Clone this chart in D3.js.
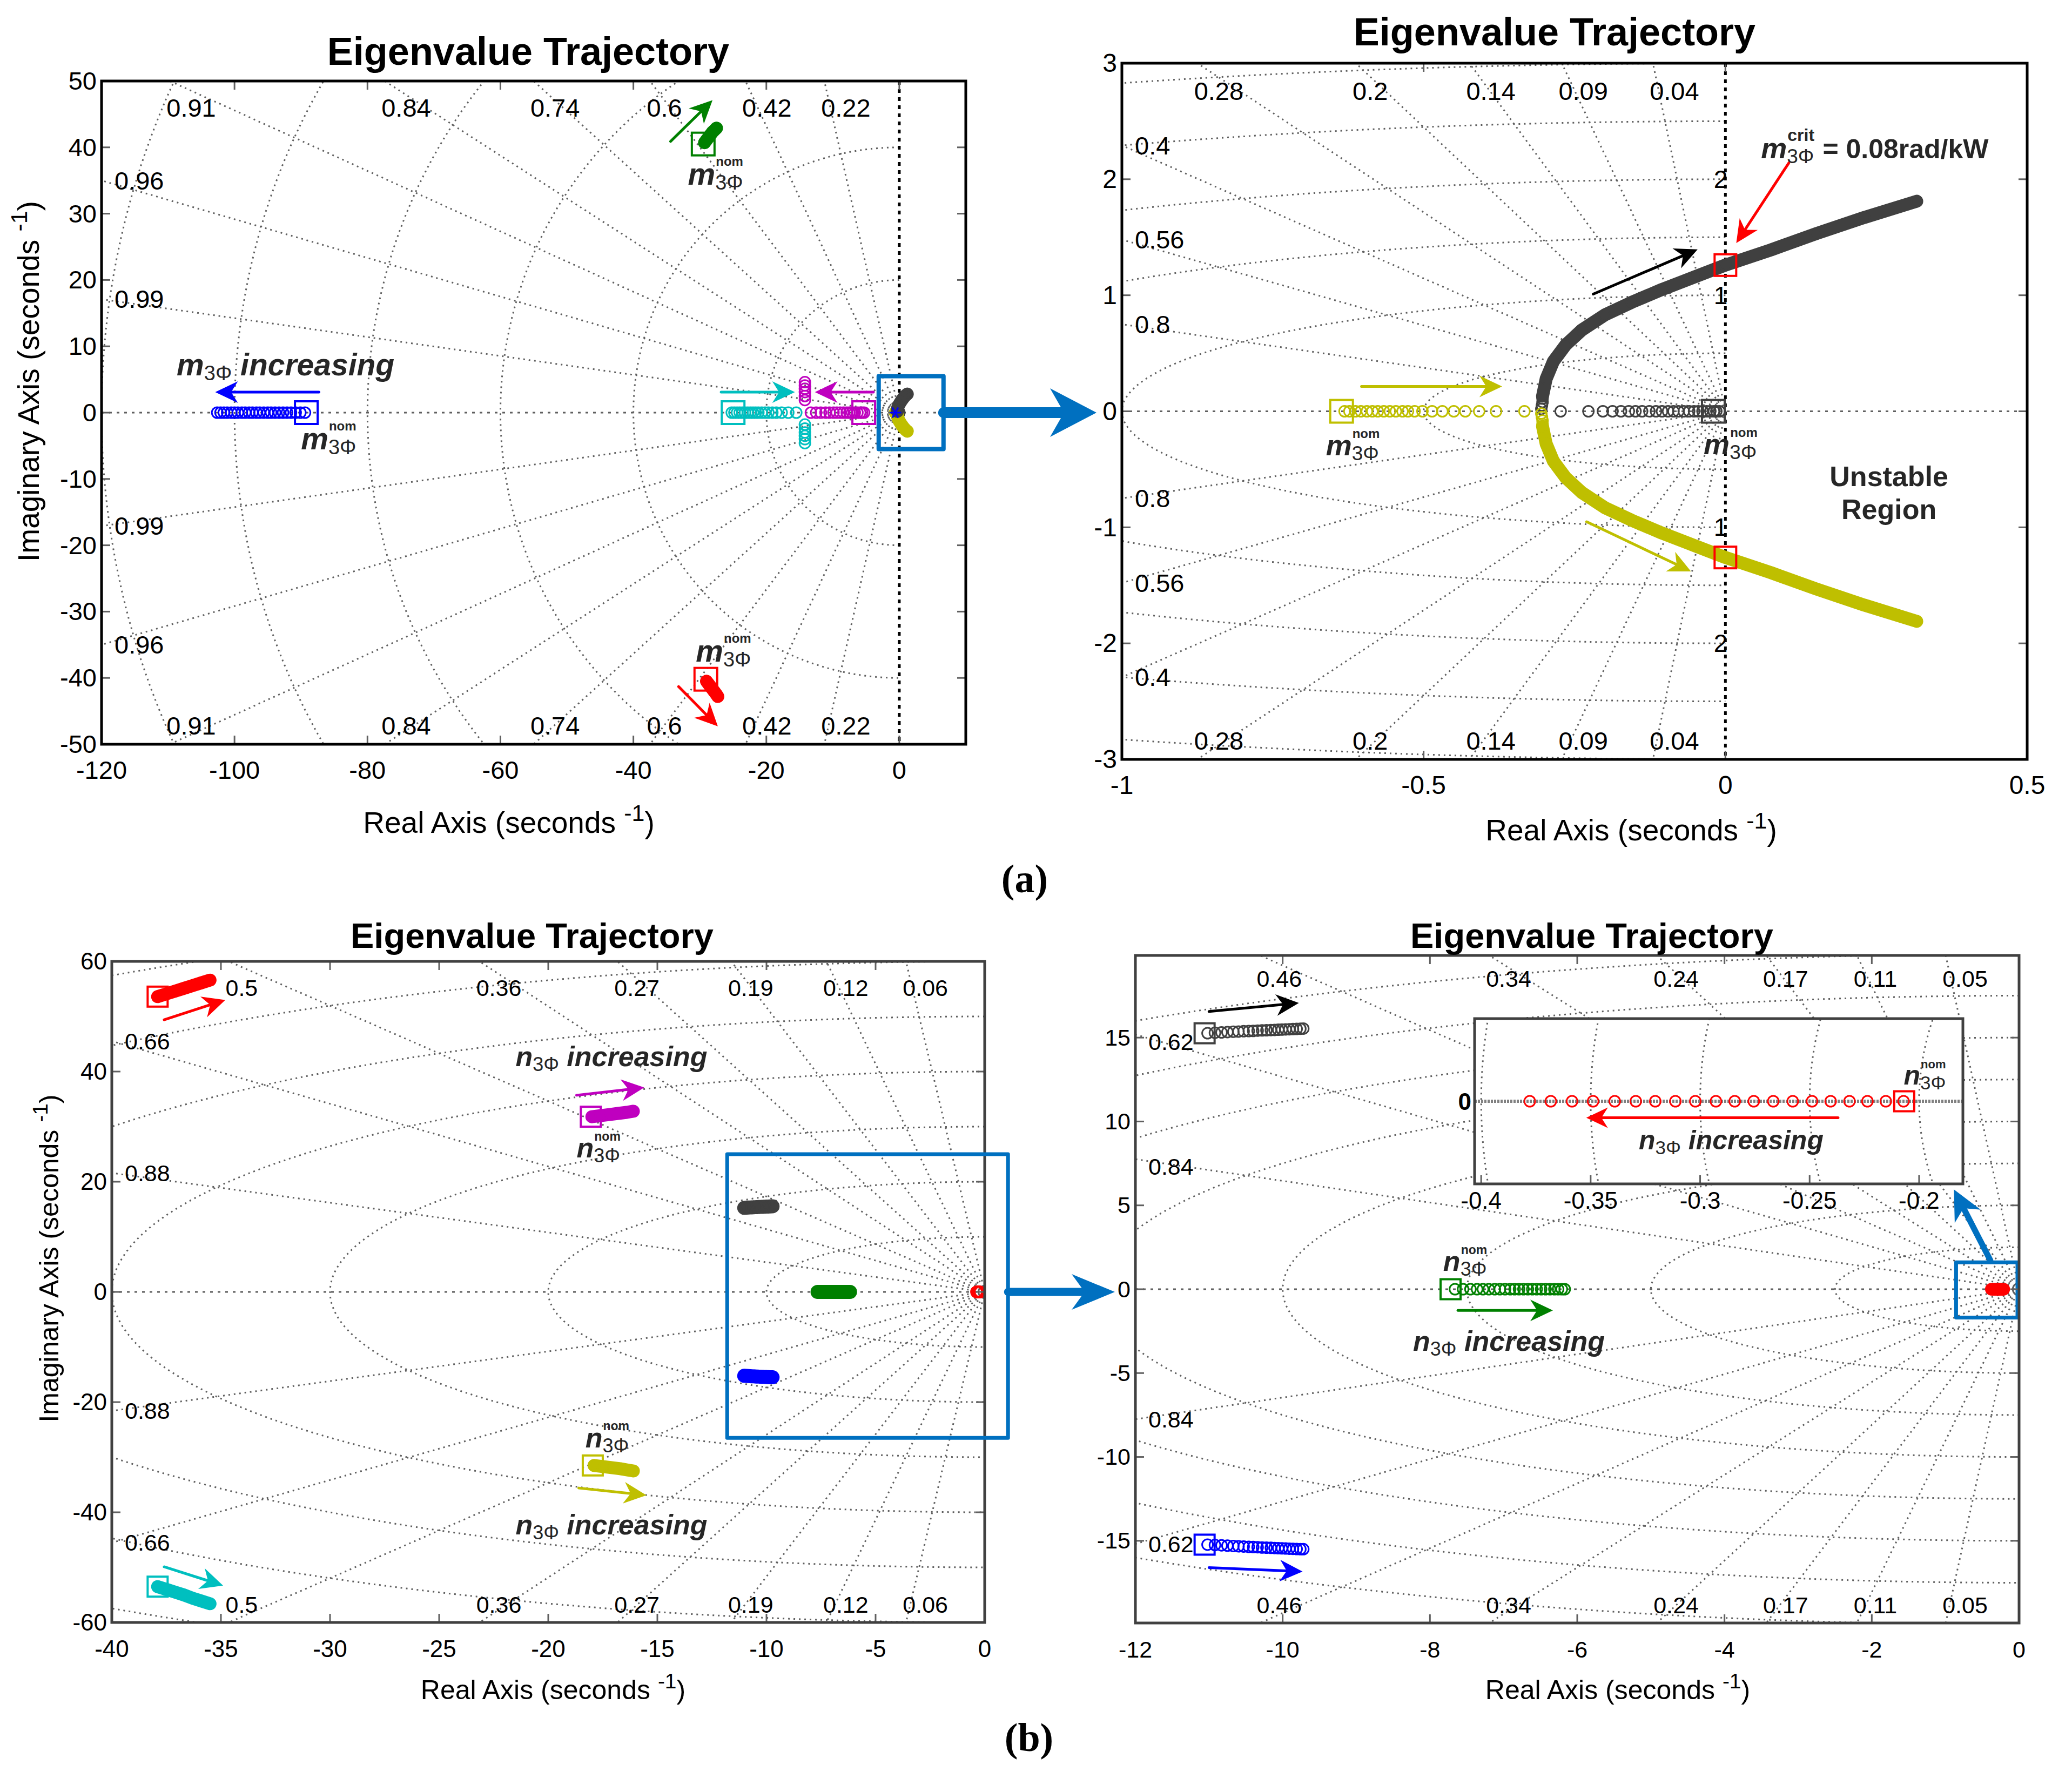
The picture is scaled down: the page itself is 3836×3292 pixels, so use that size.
<!DOCTYPE html>
<html>
<head>
<meta charset="utf-8">
<title>Eigenvalue Trajectory</title>
<script src="https://cdn.jsdelivr.net/npm/d3@7"></script>
<style>
  body { margin: 0; background: #fff; }
  svg text { font-family: "Liberation Sans", Arial, Helvetica, sans-serif; }
</style>
</head>
<body>
<svg id="fig" width="3836" height="3292"></svg>
<script>
// ---------------- values ----------------
// (a) left: wide view of the m3phi sweep  [re, im]
var aL_blue = [[-102.6,0],[-102.1,0],[-101.6,0],[-101.1,0],[-100.5,0],[-100.0,0],[-99.5,0],[-98.9,0],
  [-98.4,0],[-97.8,0],[-97.3,0],[-96.7,0],[-96.2,0],[-95.6,0],[-95.0,0],[-94.5,0],[-93.9,0],[-93.3,0],
  [-92.7,0],[-92.1,0],[-91.5,0],[-90.8,0],[-90.1,0],[-89.4,0]];
var aL_blueNom = [-89.2, 0];
var aL_magenta = [[-5.3,0],[-5.6,0],[-5.9,0],[-6.3,0],[-6.7,0],[-7.1,0],[-7.5,0],[-7.9,0],[-8.4,0],
  [-8.9,0],[-9.4,0],[-9.9,0],[-10.5,0],[-11.1,0],[-11.8,0],[-12.5,0],[-13.3,0],
  [-14.2,1.9],[-14.2,2.5],[-14.2,3.1],[-14.2,3.6],[-14.2,4.1],[-14.2,4.6]];
var aL_magentaNom = [-5.35, 0];
var aL_cyan = [[-25.2,0],[-24.8,0],[-24.4,0],[-24.0,0],[-23.6,0],[-23.2,0],[-22.8,0],[-22.4,0],[-22.0,0],
  [-21.6,0],[-21.2,0],[-20.7,0],[-20.2,0],[-19.7,0],[-19.1,0],[-18.5,0],[-17.7,0],[-16.7,0],[-15.5,0],
  [-14.2,-1.8],[-14.2,-2.4],[-14.2,-3.0],[-14.2,-3.5],[-14.2,-4.0],[-14.2,-4.6]];
var aL_cyanNom = [-25.0, 0];
var aL_green = [[-29.3,40.7],[-29.0,41.1],[-28.7,41.5],[-28.4,41.9],[-28.1,42.3],[-27.8,42.6],[-27.5,42.9]];
var aL_greenNom = [-29.5, 40.5];
var aL_red = [[-29.0,-40.5],[-28.7,-40.9],[-28.4,-41.3],[-28.1,-41.7],[-27.8,-42.1],[-27.5,-42.5],[-27.3,-42.8]];
var aL_redNom = [-29.1, -40.2];
var aL_dark = [[-0.3,0.2],[-0.25,0.7],[-0.05,1.2],[0.25,1.7],[0.6,2.2],[0.95,2.6],[1.2,2.8]];
var aL_olive = [[-0.3,-0.2],[-0.25,-0.7],[-0.05,-1.2],[0.25,-1.7],[0.6,-2.2],[0.95,-2.6],[1.2,-2.8]];
var aL_star = [-0.6, 0];

// (a) right: zoom near the origin
var aR_darkReal = [[-0.273,0],[-0.227,0],[-0.203,0],[-0.187,0],[-0.173,0],[-0.160,0],[-0.149,0],[-0.138,0],
  [-0.126,0],[-0.115,0],[-0.105,0],[-0.095,0],[-0.086,0],[-0.078,0],[-0.069,0],[-0.060,0],[-0.052,0],
  [-0.045,0],[-0.038,0],[-0.031,0],[-0.025,0],[-0.019,0],[-0.015,0],[-0.010,0]];
var aR_darkNom = [-0.020, 0];
var aR_oliveReal = [[-0.631,0],[-0.623,0],[-0.613,0],[-0.604,0],[-0.594,0],[-0.585,0],[-0.576,0],[-0.566,0],
  [-0.556,0],[-0.546,0],[-0.535,0],[-0.526,0],[-0.515,0],[-0.502,0],[-0.486,0],[-0.469,0],[-0.450,0],
  [-0.431,0],[-0.408,0],[-0.380,0],[-0.333,0]];
var aR_oliveNom = [-0.636, 0];
var aR_darkSplit = [[-0.305,0.02],[-0.304,0.05],[-0.303,0.08],[-0.303,0.11]];
var aR_oliveSplit = [[-0.305,-0.02],[-0.304,-0.05],[-0.303,-0.08],[-0.303,-0.11]];
var aR_darkUp = [[-0.303,0.13],[-0.297,0.28],[-0.285,0.43],[-0.265,0.57],[-0.238,0.70],[-0.200,0.83],
  [-0.155,0.94],[-0.105,1.05],[-0.050,1.16],[0.000,1.26],[0.075,1.39],[0.150,1.53],[0.230,1.67],[0.317,1.81]];
var aR_oliveDown = [[-0.303,-0.13],[-0.297,-0.28],[-0.285,-0.43],[-0.265,-0.57],[-0.238,-0.70],[-0.200,-0.83],
  [-0.155,-0.94],[-0.105,-1.05],[-0.050,-1.16],[0.000,-1.26],[0.075,-1.39],[0.150,-1.53],[0.230,-1.67],[0.317,-1.81]];
var aR_crit = [[0, 1.26], [0, -1.26]];

// (b): n3phi sweep
var bL_red = [[-37.9,53.6],[-37.5,54.1],[-37.1,54.6],[-36.7,55.1],[-36.3,55.6],[-35.9,56.1],[-35.5,56.6]];
var bL_redNom = [-37.9, 53.6];
var bL_cyan = [[-37.9,-53.5],[-37.5,-54.0],[-37.1,-54.5],[-36.7,-55.0],[-36.3,-55.6],[-35.9,-56.1],[-35.5,-56.6]];
var bL_cyanNom = [-37.9, -53.5];
var bL_magenta = [[-18.0,31.8],[-17.6,32.0],[-17.2,32.2],[-16.8,32.4],[-16.4,32.6],[-16.1,32.8]];
var bL_magentaNom = [-18.05, 31.8];
var bL_olive = [[-17.9,-31.5],[-17.5,-31.7],[-17.1,-31.9],[-16.7,-32.1],[-16.4,-32.3],[-16.1,-32.5]];
var bL_oliveNom = [-17.96, -31.5];

var bR_dark = [[-11.02,15.26],[-10.92,15.29],[-10.83,15.31],[-10.75,15.33],[-10.67,15.35],[-10.60,15.36],
  [-10.53,15.38],[-10.46,15.39],[-10.40,15.40],[-10.34,15.42],[-10.28,15.43],[-10.22,15.44],[-10.16,15.45],
  [-10.11,15.46],[-10.06,15.47],[-10.01,15.48],[-9.96,15.49],[-9.91,15.50],[-9.86,15.51],[-9.81,15.52],
  [-9.76,15.53],[-9.72,15.54]];
var bR_darkNom = [-11.06, 15.26];
var bR_blue = [[-11.02,-15.23],[-10.92,-15.25],[-10.83,-15.27],[-10.75,-15.29],[-10.67,-15.31],[-10.60,-15.33],
  [-10.53,-15.34],[-10.46,-15.36],[-10.40,-15.37],[-10.34,-15.38],[-10.28,-15.40],[-10.22,-15.41],[-10.16,-15.42],
  [-10.11,-15.43],[-10.06,-15.44],[-10.01,-15.45],[-9.96,-15.46],[-9.91,-15.47],[-9.86,-15.48],[-9.81,-15.49],
  [-9.76,-15.50],[-9.72,-15.50]];
var bR_blueNom = [-11.06, -15.23];
var bR_green = [[-7.66,0],[-7.55,0],[-7.45,0],[-7.36,0],[-7.28,0],[-7.20,0],[-7.12,0],[-7.05,0],[-6.98,0],
  [-6.91,0],[-6.85,0],[-6.79,0],[-6.73,0],[-6.67,0],[-6.61,0],[-6.55,0],[-6.49,0],[-6.43,0],[-6.37,0],
  [-6.31,0],[-6.26,0],[-6.21,0],[-6.17,0]];
var bR_greenNom = [-7.72, 0];
var bR_red = [[-0.3778,0],[-0.3682,0],[-0.3585,0],[-0.3489,0],[-0.3390,0],[-0.3294,0],[-0.3205,0],[-0.3113,0],
  [-0.3022,0],[-0.2928,0],[-0.2842,0],[-0.2755,0],[-0.2666,0],[-0.2577,0],[-0.2489,0],[-0.2404,0],
  [-0.2318,0],[-0.2236,0],[-0.2152,0],[-0.2071,0]];
var bR_redNom = [-0.2068, 0];

// axes ticks and s-plane grid values
var aL_xTicks = [-120,-100,-80,-60,-40,-20,0], aL_yTicks = [50,40,30,20,10,0,-10,-20,-30,-40,-50];
var aR_xTicks = [-1,-0.5,0,0.5], aR_yTicks = [3,2,1,0,-1,-2,-3];
var bL_xTicks = [-40,-35,-30,-25,-20,-15,-10,-5,0], bL_yTicks = [60,40,20,0,-20,-40,-60];
var bR_xTicks = [-12,-10,-8,-6,-4,-2,0], bR_yTicks = [15,10,5,0,-5,-10,-15];
var in_xTicks = [-0.4,-0.35,-0.3,-0.25,-0.2], in_yTicks = [0];
var aL_zeta = [0.99,0.96,0.91,0.84,0.74,0.6,0.42,0.22], aL_wn = [20,40,60,80,100,120];
var aR_zeta = [0.8,0.56,0.4,0.28,0.2,0.14,0.09,0.04], aR_wn = [0.5,1,1.5,2,2.5,3], aR_wnLabels = [1,2];
var bL_zeta = [0.88,0.66,0.5,0.36,0.27,0.19,0.12,0.06], bL_wn = [10,20,30,40,50,60,70,80];
var bR_zeta = [0.84,0.62,0.46,0.34,0.24,0.17,0.11,0.05], bR_wn = [2.5,5,7.5,10,12.5,15,17.5,20];
var in_wn = [0.2,0.25,0.3,0.35,0.4];

// ---------------- drawing ----------------
var COL = {blue:"#0000ff", green:"#008000", red:"#ff0000", cyan:"#00bfbf", magenta:"#bf00bf",
           olive:"#bfbf00", dark:"#404040", hi:"#0070c0", ink:"#262626", grid:"#5f5f5f"};
var svg = d3.select("#fig");
var defs = svg.append("defs");

function panel(id, box, xDom, yDom) {
  var p = { id: id, box: box,
    x: d3.scaleLinear().domain(xDom).range([box.l, box.r]),
    y: d3.scaleLinear().domain(yDom).range([box.b, box.t]) };
  defs.append("clipPath").attr("id", "clip-" + id).append("rect")
    .attr("x", box.l).attr("y", box.t).attr("width", box.r - box.l).attr("height", box.b - box.t);
  p.g = svg.append("g");
  p.bg = p.g.append("rect").attr("x", box.l).attr("y", box.t)
    .attr("width", box.r - box.l).attr("height", box.b - box.t).attr("fill", "#fff");
  p.clip = p.g.append("g").attr("clip-path", "url(#clip-" + id + ")");
  return p;
}

// damping rays + natural-frequency circles (sgrid)
function drawGrid(p, zetas, wns, st) {
  var g = p.clip.append("g").attr("fill", "none").attr("stroke", COL.grid)
    .attr("stroke-width", 3).attr("stroke-dasharray", "3 7");
  var xd = p.x.domain(), yd = p.y.domain();
  var M = Math.max(Math.abs(xd[0]), Math.abs(yd[0]), Math.abs(yd[1]));
  zetas.forEach(function(z) {
    var s = Math.sqrt(1 - z * z), R = 3 * M / Math.min(z, s);
    [1, -1].forEach(function(sg) {
      g.append("line").attr("x1", p.x(0)).attr("y1", p.y(0))
        .attr("x2", p.x(-R * z)).attr("y2", p.y(sg * R * s));
    });
  });
  var arc = d3.line().x(function(d) { return p.x(d[0]); }).y(function(d) { return p.y(d[1]); });
  wns.forEach(function(w) {
    var pts = d3.range(0, 181).map(function(i) {
      var a = Math.PI / 2 + i * Math.PI / 180;
      return [w * Math.cos(a), w * Math.sin(a)];
    });
    g.append("path").attr("d", arc(pts));
  });
  // real axis
  p.clip.append("line").attr("x1", p.box.l).attr("x2", p.box.r).attr("y1", p.y(0)).attr("y2", p.y(0))
    .attr("stroke", COL.grid).attr("stroke-width", 3).attr("stroke-dasharray", "5 9");
  if (!st) return;
  // damping labels at the axes edge
  var lab = p.g.append("g").attr("font-size", st.font).attr("fill", "#000");
  zetas.forEach(function(z) {
    var s = Math.sqrt(1 - z * z), xt = -yd[1] * z / s;
    if (xt >= xd[0]) {
      lab.append("text").attr("x", p.x(xt) - 6).attr("y", p.box.t + st.top).text(z);
      lab.append("text").attr("x", p.x(xt) - 6).attr("y", p.box.b - 18).text(z);
    } else {
      var yl = -xd[0] * s / z;
      lab.append("text").attr("x", p.box.l + 24).attr("y", p.y(yl) + st.font * 0.35 + st.left).text(z);
      lab.append("text").attr("x", p.box.l + 24).attr("y", p.y(-yl) + st.font * 0.35).text(z);
    }
  });
}

function drawAxes(p, xt, yt, st) {
  var b = p.box, g = p.g.append("g");
  var tk = g.append("g").attr("stroke", "#606060").attr("stroke-width", 3);
  xt.forEach(function(v) {
    tk.append("line").attr("x1", p.x(v)).attr("x2", p.x(v)).attr("y1", b.b).attr("y2", b.b - 16);
    tk.append("line").attr("x1", p.x(v)).attr("x2", p.x(v)).attr("y1", b.t).attr("y2", b.t + 16);
  });
  yt.forEach(function(v) {
    tk.append("line").attr("x1", b.l).attr("x2", b.l + 16).attr("y1", p.y(v)).attr("y2", p.y(v));
    tk.append("line").attr("x1", b.r).attr("x2", b.r - 16).attr("y1", p.y(v)).attr("y2", p.y(v));
  });
  g.append("rect").attr("x", b.l).attr("y", b.t).attr("width", b.r - b.l).attr("height", b.b - b.t)
    .attr("fill", "none").attr("stroke", st.boxColor).attr("stroke-width", 5);
  g.selectAll(null).data(xt).enter().append("text")
    .attr("x", function(d) { return p.x(d); }).attr("y", b.b + 64)
    .attr("text-anchor", "middle").attr("font-size", st.tick).text(function(d) { return d; });
  g.selectAll(null).data(yt).enter().append("text")
    .attr("x", b.l - 9).attr("y", function(d) { return p.y(d) + st.tick * 0.34; })
    .attr("text-anchor", "end").attr("font-size", st.tick).text(function(d) { return d; });
  g.append("text").attr("x", st.titleX).attr("y", st.titleY).attr("text-anchor", "middle")
    .attr("font-size", st.title).attr("font-weight", "bold").text("Eigenvalue Trajectory");
  axisLabel(g, "Real Axis (seconds", st.xlabX, st.xlabY, st.label, 0);
  if (st.ylabX) axisLabel(g, "Imaginary Axis (seconds", st.ylabX, st.ylabY, st.label, -90);
}

function axisLabel(g, s, x, y, size, rot) {
  var t = g.append("text").attr("text-anchor", "middle").attr("font-size", size)
    .attr("transform", "translate(" + x + "," + y + ") rotate(" + rot + ")");
  t.append("tspan").text(s + " ");
  t.append("tspan").text("-1").attr("font-size", size * 0.78).attr("dy", -size * 0.4);
  t.append("tspan").text(")").attr("dy", size * 0.4);
}

function px(p, d) { return [p.x(d[0]), p.y(d[1])]; }

function drawSeries(p, pts, color, thick) {
  var g = p.clip.append("g");
  if (thick) {
    g.append("path").datum(pts)
      .attr("d", d3.line().x(function(d) { return p.x(d[0]); }).y(function(d) { return p.y(d[1]); }))
      .attr("fill", "none").attr("stroke", color).attr("stroke-width", thick)
      .attr("stroke-linecap", "round").attr("stroke-linejoin", "round");
  }
  g.selectAll(null).data(pts).enter().append("circle")
    .attr("cx", function(d) { return p.x(d[0]); }).attr("cy", function(d) { return p.y(d[1]); })
    .attr("r", 10).attr("fill", "none").attr("stroke", color).attr("stroke-width", 3);
}

function drawNom(p, d, color, size) {
  var c = px(p, d);
  p.clip.append("rect").attr("x", c[0] - size / 2).attr("y", c[1] - size / 2)
    .attr("width", size).attr("height", size).attr("fill", "none")
    .attr("stroke", color).attr("stroke-width", 4);
}

// annotation arrow with swept-back head, pixel coords
function arrow(g, x1, y1, x2, y2, color, w, L, H) {
  var dx = x2 - x1, dy = y2 - y1, n = Math.sqrt(dx * dx + dy * dy), ux = dx / n, uy = dy / n;
  var bx = x2 - L * ux, by = y2 - L * uy, nx = bx + 0.3 * L * ux, ny = by + 0.3 * L * uy;
  g.append("line").attr("x1", x1).attr("y1", y1).attr("x2", nx).attr("y2", ny)
    .attr("stroke", color).attr("stroke-width", w).attr("stroke-linecap", "round");
  g.append("path").attr("fill", color).attr("d",
    "M" + x2 + "," + y2 + "L" + (bx - H * uy) + "," + (by + H * ux) + "L" + nx + "," + ny +
    "L" + (bx + H * uy) + "," + (by - H * ux) + "Z");
}
function dArrow(p, a, b, color) {
  arrow(p.g, p.x(a[0]), p.y(a[1]), p.x(b[0]), p.y(b[1]), color, 5, 42, 20);
}

// m3Φ / n3Φ style labels
function symText(g, x, y, letter, tail, f) {
  var t = g.append("text").attr("x", x).attr("y", y).attr("fill", COL.ink);
  t.append("tspan").text(letter).attr("font-size", f.big).attr("font-weight", "bold").attr("font-style", "italic");
  t.append("tspan").text("3\u03A6").attr("font-size", f.sub).attr("dy", 9);
  if (tail) t.append("tspan").text(" " + tail).attr("font-size", f.big).attr("dy", -9)
    .attr("font-weight", "bold").attr("font-style", "italic");
  return t;
}
function supText(g, x, y, letter, sup, f) {
  var t = g.append("text").attr("x", x).attr("y", y).attr("fill", COL.ink)
    .attr("font-size", f.big).attr("font-weight", "bold").attr("font-style", "italic").text(letter);
  var w = t.node().getComputedTextLength();
  var s = g.append("text").attr("x", x + w).attr("y", y + 9).attr("fill", COL.ink)
    .attr("font-size", f.sub).text("3\u03A6");
  var u = g.append("text").attr("x", x + w + 1).attr("y", y - f.big * 0.6).attr("fill", COL.ink)
    .attr("font-size", f.sup).attr("font-weight", "bold").text(sup);
  return x + w + Math.max(s.node().getComputedTextLength(), u.node().getComputedTextLength());
}

function hiBox(p, x0, x1, y0, y1, w) {
  p.g.append("rect").attr("x", p.x(x0)).attr("y", p.y(y1))
    .attr("width", p.x(x1) - p.x(x0)).attr("height", p.y(y0) - p.y(y1))
    .attr("fill", "none").attr("stroke", COL.hi).attr("stroke-width", w).attr("stroke-linejoin", "round");
}

// ---------- (a) left ----------
var aL = panel("aL", {l: 188, r: 1788, t: 150, b: 1378}, [-120, 10], [-50, 50]);
drawGrid(aL, aL_zeta, aL_wn, {font: 47, top: 66, left: 0});
aL.clip.append("line").attr("x1", aL.x(0)).attr("x2", aL.x(0)).attr("y1", aL.box.t).attr("y2", aL.box.b)
  .attr("stroke", "#000").attr("stroke-width", 5).attr("stroke-dasharray", "7 8");
drawSeries(aL, aL_blue, COL.blue); drawNom(aL, aL_blueNom, COL.blue, 42);
drawSeries(aL, aL_cyan, COL.cyan); drawNom(aL, aL_cyanNom, COL.cyan, 42);
drawSeries(aL, aL_magenta, COL.magenta); drawNom(aL, aL_magentaNom, COL.magenta, 42);
drawSeries(aL, aL_green, COL.green, 24); drawNom(aL, aL_greenNom, COL.green, 42);
drawSeries(aL, aL_red, COL.red, 24); drawNom(aL, aL_redNom, COL.red, 42);
drawSeries(aL, aR_oliveReal, COL.olive); drawSeries(aL, aR_darkReal, COL.dark);
drawSeries(aL, aL_olive, COL.olive, 24); drawSeries(aL, aL_dark, COL.dark, 24);
(function() {
  var c = px(aL, aL_star), g = aL.clip.append("g").attr("stroke", COL.blue).attr("stroke-width", 3);
  [0, 60, 120].forEach(function(a) {
    var r = a * Math.PI / 180;
    g.append("line").attr("x1", c[0] - 11 * Math.cos(r)).attr("y1", c[1] - 11 * Math.sin(r))
      .attr("x2", c[0] + 11 * Math.cos(r)).attr("y2", c[1] + 11 * Math.sin(r));
  });
})();
dArrow(aL, [-87.3, 3.1], [-102.9, 3.1], COL.blue);
dArrow(aL, [-26.8, 3.1], [-15.7, 3.1], COL.cyan);
dArrow(aL, [-3.9, 3.1], [-12.7, 3.1], COL.magenta);
dArrow(aL, [-34.4, 40.9], [-28.1, 47.1], COL.green);
dArrow(aL, [-33.2, -41.3], [-27.3, -47.3], COL.red);
var fA = {big: 57, sub: 38, sup: 24};
symText(aL.g, aL.x(-108.7), aL.y(5.6), "m", "increasing", fA);
supText(aL.g, aL.x(-90.0), aL.y(-5.5), "m", "nom", fA);
supText(aL.g, aL.x(-31.8), aL.y(34.4), "m", "nom", fA);
supText(aL.g, aL.x(-30.6), aL.y(-37.5), "m", "nom", fA);
hiBox(aL, -3.1, 6.65, -5.5, 5.5, 8);
drawAxes(aL, aL_xTicks, aL_yTicks, {boxColor: "#000", tick: 47, title: 72, titleX: 978, titleY: 120,
  label: 55, xlabX: 942, xlabY: 1542, ylabX: 72, ylabY: 706});

// ---------- (a) right ----------
var aR = panel("aR", {l: 2077, r: 3753, t: 117, b: 1406}, [-1, 0.5], [-3, 3]);
drawGrid(aR, aR_zeta, aR_wn, {font: 47, top: 68, left: 0});
aR.g.append("g").attr("font-size", 46).attr("text-anchor", "end").selectAll(null)
  .data(aR_wnLabels.concat(aR_wnLabels.map(function(v) { return -v; }))).enter().append("text")
  .attr("x", aR.x(0) + 4).attr("y", function(d) { return aR.y(d) + 16; })
  .text(function(d) { return Math.abs(d); });
aR.clip.append("line").attr("x1", aR.x(0)).attr("x2", aR.x(0)).attr("y1", aR.box.t).attr("y2", aR.box.b)
  .attr("stroke", "#000").attr("stroke-width", 5).attr("stroke-dasharray", "7 8");
drawSeries(aR, aR_oliveReal, COL.olive); drawNom(aR, aR_oliveNom, COL.olive, 42);
drawSeries(aR, aR_darkReal, COL.dark); drawNom(aR, aR_darkNom, COL.dark, 42);
drawSeries(aR, aR_darkSplit, COL.dark); drawSeries(aR, aR_oliveSplit, COL.olive);
drawSeries(aR, aR_darkUp, COL.dark, 24); drawSeries(aR, aR_oliveDown, COL.olive, 24);
aR_crit.forEach(function(d) { drawNom(aR, d, COL.red, 40); });
dArrow(aR, [-0.219, 1.01], [-0.046, 1.395], "#000");
dArrow(aR, [-0.603, 0.214], [-0.37, 0.214], COL.olive);
dArrow(aR, [-0.23, -0.952], [-0.057, -1.38], COL.olive);
dArrow(aR, [0.105, 2.14], [0.018, 1.45], COL.red);
var fB = {big: 54, sub: 37, sup: 24};
supText(aR.g, aR.x(-0.662), aR.y(-0.38), "m", "nom", fB);
supText(aR.g, aR.x(-0.036), aR.y(-0.37), "m", "nom", fB);
(function() {
  var xe = supText(aR.g, aR.x(0.059), aR.y(2.18), "m", "crit", {big: 54, sub: 37, sup: 32});
  aR.g.append("text").attr("x", xe + 16).attr("y", aR.y(2.18)).attr("fill", COL.ink)
    .attr("font-size", 50).attr("font-weight", "bold").text("= 0.08rad/kW");
  aR.g.append("text").attr("x", aR.x(0.271)).attr("y", aR.y(-0.644)).attr("text-anchor", "middle")
    .attr("fill", COL.ink).attr("font-size", 52).attr("font-weight", "bold").text("Unstable");
  aR.g.append("text").attr("x", aR.x(0.271)).attr("y", aR.y(-0.929)).attr("text-anchor", "middle")
    .attr("fill", COL.ink).attr("font-size", 52).attr("font-weight", "bold").text("Region");
})();
drawAxes(aR, aR_xTicks, aR_yTicks, {boxColor: "#000", tick: 48, title: 72, titleX: 2878, titleY: 84,
  label: 55, xlabX: 3020, xlabY: 1556});

// ---------- (b) left ----------
var bL = panel("bL", {l: 207, r: 1823, t: 1780, b: 3004}, [-40, 0], [-60, 60]);
drawGrid(bL, bL_zeta, bL_wn, {font: 43, top: 64, left: 0});
drawSeries(bL, bL_red, COL.red, 24); drawNom(bL, bL_redNom, COL.red, 37);
drawSeries(bL, bL_cyan, COL.cyan, 24); drawNom(bL, bL_cyanNom, COL.cyan, 37);
drawSeries(bL, bL_magenta, COL.magenta, 24); drawNom(bL, bL_magentaNom, COL.magenta, 37);
drawSeries(bL, bL_olive, COL.olive, 24); drawNom(bL, bL_oliveNom, COL.olive, 37);
drawSeries(bL, bR_dark, COL.dark, 26); drawSeries(bL, bR_green, COL.green, 26);
drawSeries(bL, bR_blue, COL.blue, 26); drawSeries(bL, bR_red, COL.red);
dArrow(bL, [-37.6, 49.4], [-34.8, 53.0], COL.red);
dArrow(bL, [-37.6, -49.9], [-34.9, -53.3], COL.cyan);
dArrow(bL, [-18.7, 35.7], [-15.6, 37.1], COL.magenta);
dArrow(bL, [-18.6, -35.6], [-15.5, -36.9], COL.olive);
var fC = {big: 52, sub: 36, sup: 23};
symText(bL.g, bL.x(-21.5), bL.y(41.0), "n", "increasing", fC);
symText(bL.g, bL.x(-21.5), bL.y(-44.0), "n", "increasing", fC);
supText(bL.g, bL.x(-18.7), bL.y(24.4), "n", "nom", fC);
supText(bL.g, bL.x(-18.3), bL.y(-28.2), "n", "nom", fC);
drawAxes(bL, bL_xTicks, bL_yTicks, {boxColor: COL.dark, tick: 44, title: 65, titleX: 985, titleY: 1755,
  label: 50, xlabX: 1024, xlabY: 3146, ylabX: 108, ylabY: 2330});
hiBox(bL, -11.8, 1.07, -26.5, 25.0, 7);

// ---------- (b) right ----------
var bR = panel("bR", {l: 2102, r: 3738, t: 1769, b: 3005}, [-12, 0], [-19.9, 19.9]);
drawGrid(bR, bR_zeta, bR_wn, {font: 43, top: 58, left: 14});
drawSeries(bR, bR_dark, COL.dark); drawNom(bR, bR_darkNom, COL.dark, 37);
drawSeries(bR, bR_blue, COL.blue); drawNom(bR, bR_blueNom, COL.blue, 37);
drawSeries(bR, bR_green, COL.green); drawNom(bR, bR_greenNom, COL.green, 37);
drawSeries(bR, bR_red, COL.red, 20);
dArrow(bR, [-11.0, 16.56], [-9.78, 17.07], "#000");
dArrow(bR, [-11.0, -16.6], [-9.73, -16.83], COL.blue);
dArrow(bR, [-7.62, -1.26], [-6.33, -1.26], COL.green);
supText(bR.g, bR.x(-7.82), bR.y(1.1), "n", "nom", fC);
symText(bR.g, bR.x(-8.23), bR.y(-3.68), "n", "increasing", fC);
hiBox(bR, -0.855, -0.022, -1.69, 1.6, 7);
drawAxes(bR, bR_xTicks, bR_yTicks, {boxColor: COL.dark, tick: 43, title: 65, titleX: 2947, titleY: 1755,
  label: 50, xlabX: 2995, xlabY: 3146});

// inset of the red branch
var inP = panel("in", {l: 2730, r: 3634, t: 1886, b: 2192}, [-0.403, -0.18], [-0.05, 0.05]);
(function() {
  var g = inP.clip.append("g").attr("fill", "none").attr("stroke", COL.grid)
    .attr("stroke-width", 3).attr("stroke-dasharray", "3 7");
  var arc = d3.line().x(function(d) { return inP.x(d[0]); }).y(function(d) { return inP.y(d[1]); });
  in_wn.forEach(function(w) {
    var pts = d3.range(0, 181).map(function(i) {
      var a = Math.PI / 2 + i * Math.PI / 180;
      return [w * Math.cos(a), w * Math.sin(a)];
    });
    g.append("path").attr("d", arc(pts));
  });
  inP.clip.append("line").attr("x1", inP.box.l).attr("x2", inP.box.r)
    .attr("y1", inP.y(0)).attr("y2", inP.y(0))
    .attr("stroke", "#808080").attr("stroke-width", 6).attr("stroke-dasharray", "4 2");
})();
drawSeries(inP, bR_red, COL.red); drawNom(inP, bR_redNom, COL.red, 37);
arrow(inP.g, inP.x(-0.237), inP.y(-0.01), inP.x(-0.352), inP.y(-0.01), COL.red, 5, 40, 19);
symText(inP.g, inP.x(-0.328), inP.y(-0.029), "n", "increasing", {big: 50, sub: 35, sup: 22});
supText(inP.g, inP.x(-0.207), inP.y(0.010), "n", "nom", {big: 50, sub: 35, sup: 22});
(function() {
  var b = inP.box, g = inP.g.append("g");
  g.selectAll(null).data(in_xTicks).enter().append("line")
    .attr("x1", function(d) { return inP.x(d); }).attr("x2", function(d) { return inP.x(d); })
    .attr("y1", b.b).attr("y2", b.b - 16).attr("stroke", "#606060").attr("stroke-width", 3);
  g.append("rect").attr("x", b.l).attr("y", b.t).attr("width", b.r - b.l).attr("height", b.b - b.t)
    .attr("fill", "none").attr("stroke", COL.dark).attr("stroke-width", 5);
  g.selectAll(null).data(in_xTicks).enter().append("text")
    .attr("x", function(d) { return inP.x(d); }).attr("y", b.b + 46)
    .attr("text-anchor", "middle").attr("font-size", 44).text(function(d) { return d; });
  g.selectAll(null).data(in_yTicks).enter().append("text")
    .attr("x", b.l - 6).attr("y", function(d) { return inP.y(d) + 16; })
    .attr("text-anchor", "end").attr("font-size", 44).attr("font-weight", "bold").text(function(d) { return d; });
})();
arrow(svg, bR.x(-0.39), bR.y(1.72), bR.x(-0.885), bR.y(5.95), COL.hi, 11, 56, 27);

// ---------- connectors and panel letters ----------
arrow(svg, aL.x(6.65), aL.y(0), 2030, aL.y(0), COL.hi, 20, 86, 45);
arrow(svg, bL.x(1.07), bL.y(0), 2064, bL.y(0), COL.hi, 15, 80, 33);
svg.append("text").attr("x", 1897).attr("y", 1652).attr("text-anchor", "middle")
  .style("font-family", "'Liberation Serif', 'DejaVu Serif', serif").attr("font-weight", "bold")
  .attr("font-size", 74).text("(a)");
svg.append("text").attr("x", 1905).attr("y", 3242).attr("text-anchor", "middle")
  .style("font-family", "'Liberation Serif', 'DejaVu Serif', serif").attr("font-weight", "bold")
  .attr("font-size", 74).text("(b)");
</script>
</body>
</html>
